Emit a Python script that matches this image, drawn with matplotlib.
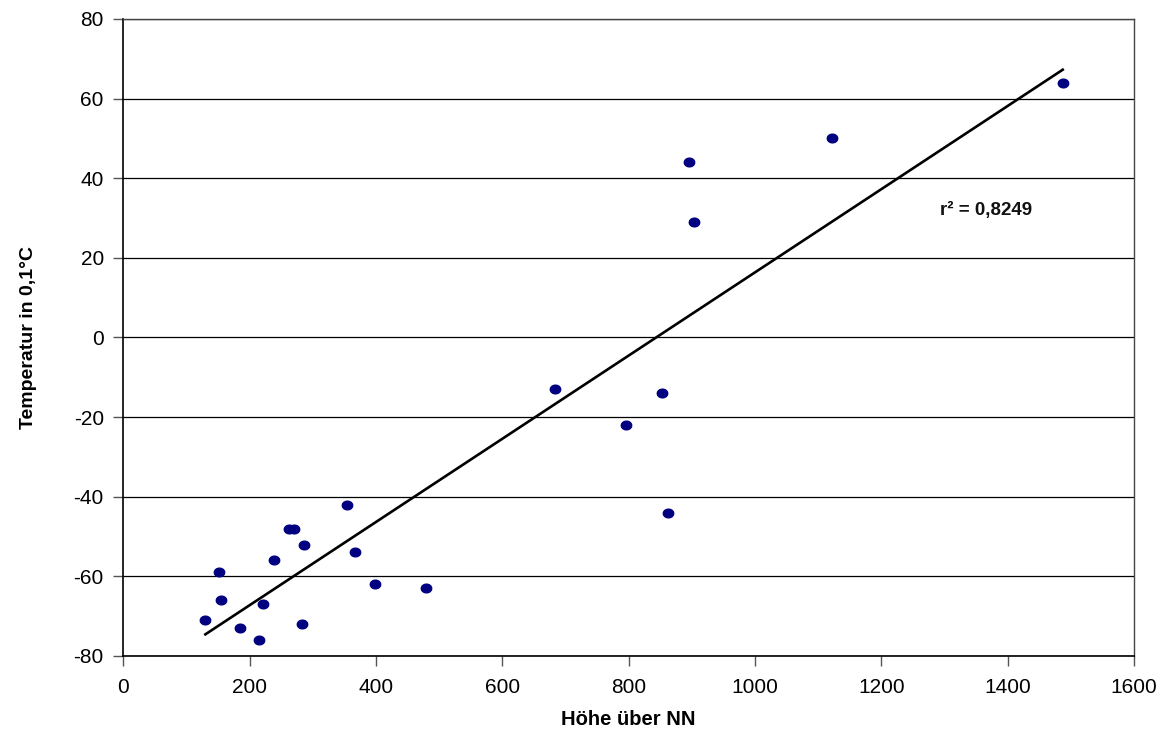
import numpy as np
import matplotlib
matplotlib.use("Agg")
import matplotlib.pyplot as plt

plt.rcParams['font.family'] = ['Liberation Sans', 'DejaVu Sans']
plt.rcParams['axes.unicode_minus'] = False

# Data
hoehe = [130, 152, 155, 185, 215, 222, 239, 263, 270, 283, 286, 354, 367, 399,
         480, 683, 795, 852, 863, 896, 904, 1122, 1487]
temp = [-71, -59, -66, -73, -76, -67, -56, -48, -48, -72, -52, -42, -54, -62,
        -63, -13, -22, -14, -44, 44, 29, 50, 64]

x = np.array(hoehe)
y = np.array(temp)

# linear trend
slope, intercept = np.polyfit(x, y, 1)
xs = np.array([x.min(), x.max()])

fig = plt.figure(figsize=(11.68, 7.3), dpi=100)
ax = fig.add_axes([0.1055, 0.1014, 0.8655, 0.8726])

ax.set_xlim(0, 1600)
ax.set_ylim(-80, 80)
ax.set_xticks(range(0, 1601, 200))
ax.set_yticks(range(-80, 81, 20))

ax.yaxis.grid(True, color="black", linewidth=0.9)
ax.set_axisbelow(True)

# ellipse-shaped marker, a bit wider than tall
t = np.linspace(0, 2 * np.pi, 40)
ellipse = np.column_stack([1.2 * np.cos(t), np.sin(t)])

ax.plot(x, y, linestyle="none", marker=ellipse, markersize=7.5,
        color="#000080", zorder=3)
ax.plot(xs, slope * xs + intercept, color="black", linewidth=1.9, zorder=2)

ax.text(1366, 31.8, "r² = 0,8249", fontsize=13.5, fontweight="bold",
        ha="center", va="center", color="#111111")

ax.set_xlabel("Höhe über NN", fontsize=14.5, fontweight="bold", labelpad=9)
ax.set_ylabel("Temperatur in 0,1°C", fontsize=14, fontweight="bold", labelpad=26)

ax.tick_params(axis="both", labelsize=15, length=7, width=1, color="#555555",
               direction="out")
ax.tick_params(axis="x", pad=9)
ax.tick_params(axis="y", pad=7)

for s in ["left", "bottom"]:
    ax.spines[s].set_color("black")
    ax.spines[s].set_linewidth(1.2)
for s in ["top", "right"]:
    ax.spines[s].set_color("#444444")
    ax.spines[s].set_linewidth(1.0)

plt.savefig("out.png", dpi=100)
